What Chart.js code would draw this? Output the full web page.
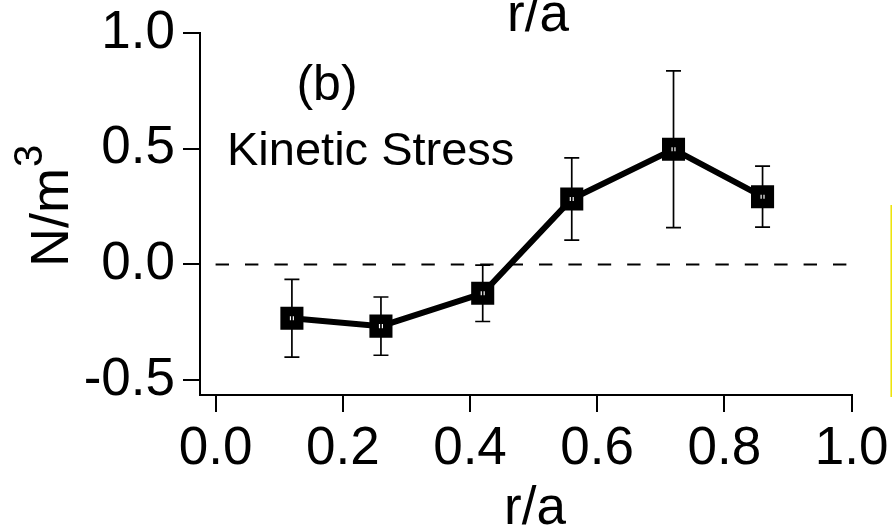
<!DOCTYPE html>
<html>
<head>
<meta charset="utf-8">
<script src="https://cdn.jsdelivr.net/npm/chart.js@4/dist/chart.umd.min.js"></script>
<style>
  html, body { margin: 0; padding: 0; background: #fff; }
  #c { display: block; }
</style>
</head>
<body>
<canvas id="c" width="892" height="530"></canvas>
<script>
// Radial positions and kinetic stress (N/m^3) with symmetric uncertainties
const radius = [0.12, 0.26, 0.42, 0.56, 0.72, 0.86];
const stress = [-0.233, -0.267, -0.125, 0.283, 0.498, 0.293];
const stressErr = [0.168, 0.126, 0.122, 0.178, 0.339, 0.132];

// Reference line at zero across the radial range
const zeroX = [0, 1];
const zeroY = [0, 0];

// Axis tick values
const xTicks = [0.0, 0.2, 0.4, 0.6, 0.8, 1.0];
const yTicks = [-0.5, 0.0, 0.5, 1.0];

const FONT = '"Liberation Sans", Arial, Helvetica, sans-serif';

const errorBars = {
  id: 'errorBars',
  afterDatasetsDraw(chart) {
    const { ctx, scales: { x, y } } = chart;
    ctx.save();
    ctx.strokeStyle = '#000';
    ctx.lineWidth = 1.7;
    const cap = 7.5;
    radius.forEach((r, i) => {
      const px = x.getPixelForValue(r);
      const top = y.getPixelForValue(stress[i] + stressErr[i]);
      const bot = y.getPixelForValue(stress[i] - stressErr[i]);
      ctx.beginPath();
      ctx.moveTo(px, top); ctx.lineTo(px, bot);
      ctx.moveTo(px - cap, top); ctx.lineTo(px + cap, top);
      ctx.moveTo(px - cap, bot); ctx.lineTo(px + cap, bot);
      ctx.stroke();
    });
    ctx.restore();
  }
};

const annotations = {
  id: 'annotations',
  afterDraw(chart) {
    const { ctx } = chart;
    ctx.save();
    ctx.fillStyle = '#000';
    ctx.textBaseline = 'alphabetic';

    // panel tag and label
    ctx.textAlign = 'center';
    ctx.font = '50px ' + FONT;
    ctx.fillText('(b)', 327, 100);
    ctx.font = '47px ' + FONT;
    ctx.textAlign = 'left';
    ctx.fillText('Kinetic Stress', 227, 165);

    // x-axis titles (this panel and the one above)
    ctx.textAlign = 'center';
    ctx.font = '53px ' + FONT;
    ctx.fillText('r/a', 535, 524);
    ctx.fillText('r/a', 538, 31);

    // y-axis title with superscript
    ctx.translate(68, 267);
    ctx.rotate(-Math.PI / 2);
    ctx.textAlign = 'left';
    ctx.font = '54px ' + FONT;
    ctx.fillText('N/m', 0, 0);
    const w = ctx.measureText('N/m').width;
    ctx.font = '40px ' + FONT;
    ctx.fillText('3', w + 1, -26);
    ctx.restore();

    // edge of the neighbouring panel
    ctx.save();
    ctx.strokeStyle = '#ece300';
    ctx.lineWidth = 1.5;
    ctx.beginPath();
    ctx.moveTo(891.2, 205);
    ctx.lineTo(891.2, 397);
    ctx.stroke();
    ctx.restore();
  }
};

new Chart(document.getElementById('c'), {
  type: 'line',
  data: {
    datasets: [
      {
        data: zeroX.map((v, i) => ({ x: v, y: zeroY[i] })),
        borderColor: '#000',
        borderWidth: 2,
        borderDash: [13.4, 16],
        pointRadius: 0,
        fill: false
      },
      {
        data: radius.map((r, i) => ({ x: r, y: stress[i] })),
        borderColor: '#000',
        borderWidth: 6,
        pointStyle: 'rect',
        pointRadius: 9.6,
        pointBorderWidth: 9.5,
        pointBorderColor: '#000',
        pointBackgroundColor: '#fff',
        fill: false,
        tension: 0
      }
    ]
  },
  options: {
    responsive: false,
    animation: false,
    devicePixelRatio: 1,
    layout: { padding: { left: 0, right: 40.4, top: 33.3, bottom: 0 } },
    plugins: { legend: { display: false }, tooltip: { enabled: false } },
    scales: {
      x: {
        type: 'linear',
        min: -0.0245,
        max: 1.0,
        afterBuildTicks: s => { s.ticks = xTicks.map(v => ({ value: v })); },
        afterFit: s => { s.height = 135; s.paddingLeft = 0; s.paddingRight = 0; },
        grid: { drawOnChartArea: false, tickLength: 17, lineWidth: 2, color: '#000' },
        border: { display: true, color: '#000', width: 2 },
        ticks: {
          color: '#000',
          font: { family: FONT, size: 53 },
          padding: 6,
          maxRotation: 0,
          autoSkip: false,
          callback: v => v.toFixed(1)
        }
      },
      y: {
        type: 'linear',
        min: -0.565,
        max: 1.0,
        afterBuildTicks: s => { s.ticks = yTicks.map(v => ({ value: v })); },
        afterFit: s => { s.width = 200; s.paddingTop = 0; s.paddingBottom = 0; },
        grid: { drawOnChartArea: false, tickLength: 17, lineWidth: 2, color: '#000' },
        border: { display: true, color: '#000', width: 2 },
        ticks: {
          color: '#000',
          font: { family: FONT, size: 53 },
          padding: 8,
          autoSkip: false,
          callback: v => v.toFixed(1)
        }
      }
    }
  },
  plugins: [errorBars, annotations]
});
</script>
</body>
</html>
